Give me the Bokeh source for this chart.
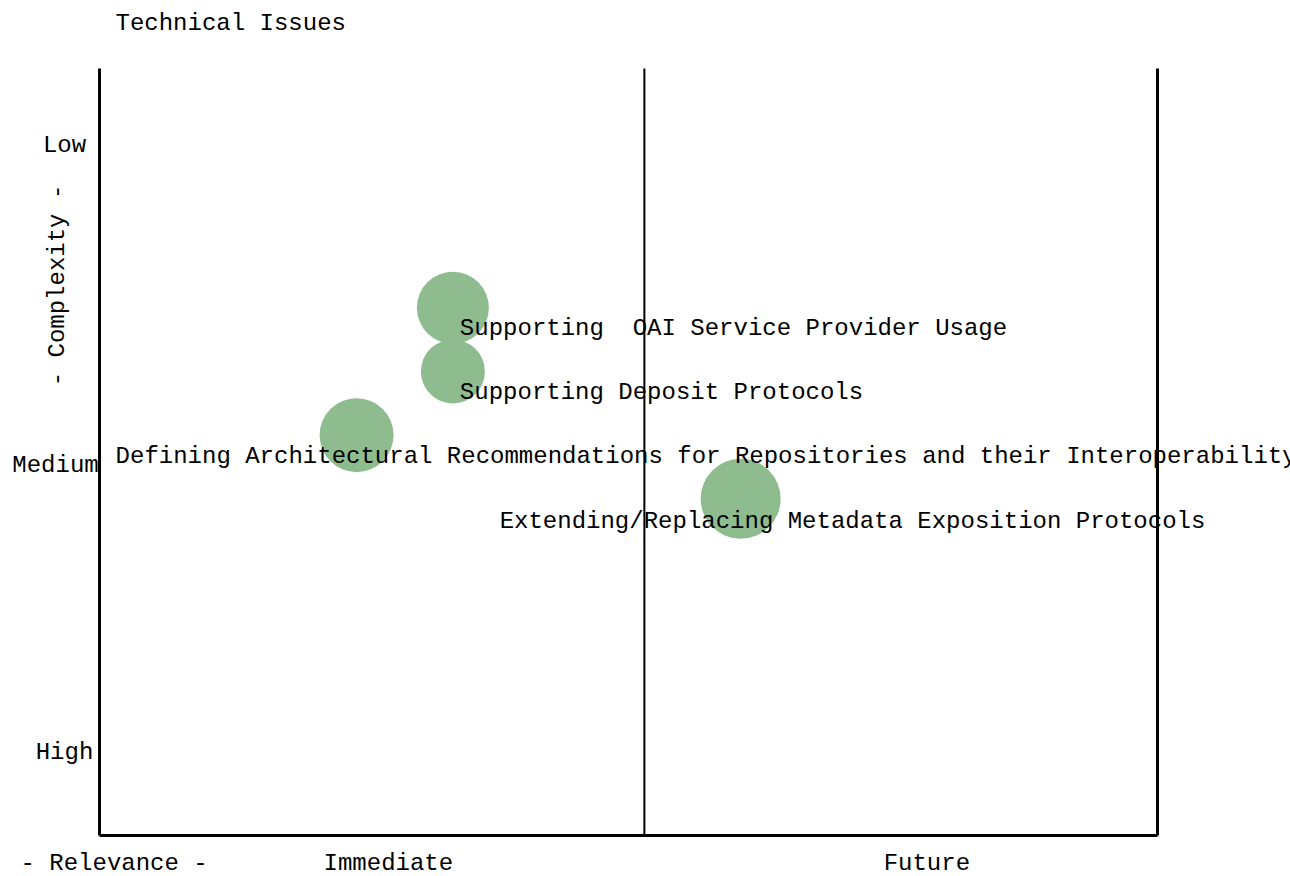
from bokeh.plotting import figure
from bokeh.models import Range1d
from bokeh.core.properties import value
from bokeh.embed import file_html
from bokeh.resources import INLINE

# ---- data ----
title_text = "Technical Issues"
issues = [
    "Supporting \u00a0OAI Service Provider Usage",
    "Supporting Deposit Protocols",
    "Defining Architectural Recommendations for Repositories and their Interoperability",
    "Extending/Replacing Metadata Exposition Protocols",
]
relevance = [33.4, 33.4, 24.3, 60.6]      # 0..100, left = immediate
complexity = [68.8, 60.5, 52.2, 43.9]     # 0..100, top = low complexity
weight = [36, 32, 37, 40]                 # bubble weight
y_tick_values = [90.0, 48.2, 10.8]
y_tick_labels = ["Low", "Medium", "High"]
x_group_values = [27.3, 78.2]
x_group_labels = ["Immediate", "Future"]
x_divider = 51.5
x_axis_title = "- Relevance -"
y_axis_title = "- Complexity -"

# ---- styling / geometry (pixels) ----
FONT = value("Liberation Mono")
FS = "24px"
GREEN = "#8FBC8F"
W, H = 1290, 876
LEFT, RIGHT, TOP, BOTTOM = 99, 1157, 68, 835
PX_X = (RIGHT - LEFT) / 100.0
PX_Y = (BOTTOM - TOP) / 100.0


def dx(px):  # pixel offset -> data x offset
    return px / PX_X


def dy(px):  # pixel offset (down positive) -> data y offset
    return -px / PX_Y


p = figure(width=W, height=H,
           x_range=Range1d((0 - LEFT) / PX_X, (W - LEFT) / PX_X),
           y_range=Range1d((BOTTOM - H) / PX_Y, (BOTTOM - 0) / PX_Y),
           output_backend="svg", toolbar_location=None,
           x_axis_location=None, y_axis_location=None,
           min_border_left=0, min_border_right=0,
           min_border_top=0, min_border_bottom=0)
p.grid.visible = False
p.outline_line_color = None
p.background_fill_color = "white"
p.border_fill_color = "white"

# frame lines
p.segment(x0=[0, 100, 0], y0=[0, 0, 0], x1=[0, 100, 100], y1=[100, 100, 0],
          line_color="black", line_width=3)
p.segment(x0=[x_divider], y0=[0], x1=[x_divider], y1=[100],
          line_color="black", line_width=2)

# bubbles
sizes = [2 * w for w in weight]
p.scatter(relevance, complexity, size=sizes, fill_color=GREEN, line_color=None)

label_dx = [7, 7, -241, -241]
label_dy = [21, 21, 21, 23]
p.text([x + dx(o) for x, o in zip(relevance, label_dx)],
       [y + dy(o) for y, o in zip(complexity, label_dy)],
       text=issues, text_font=FONT, text_font_size=FS, text_color="black",
       text_align="left", text_baseline="middle")

# title
p.text([dx(115 - LEFT)], [100 + dy(23 - TOP)], text=[title_text],
       text_font=FONT, text_font_size=FS, text_align="left", text_baseline="middle")

# y tick labels
tick_center = {"Low": 64, "Medium": 55, "High": 64}
p.text([dx(tick_center[t] - LEFT) for t in y_tick_labels], y_tick_values,
       text=y_tick_labels, text_font=FONT, text_font_size=FS,
       text_align="center", text_baseline="middle")

# y axis title
p.text([dx(57 - LEFT)], [dy(285 - BOTTOM)], text=[y_axis_title], angle=1.5708,
       text_font=FONT, text_font_size=FS, text_align="center", text_baseline="middle")

# x group labels
p.text(x_group_values, [dy(863 - BOTTOM)] * len(x_group_values), text=x_group_labels,
       text_font=FONT, text_font_size=FS, text_align="center", text_baseline="middle")

# x axis title
p.text([dx(20 - LEFT)], [dy(863 - BOTTOM)], text=[x_axis_title],
       text_font=FONT, text_font_size=FS, text_align="left", text_baseline="middle")

open("out.html", "w").write(file_html(p, INLINE))
